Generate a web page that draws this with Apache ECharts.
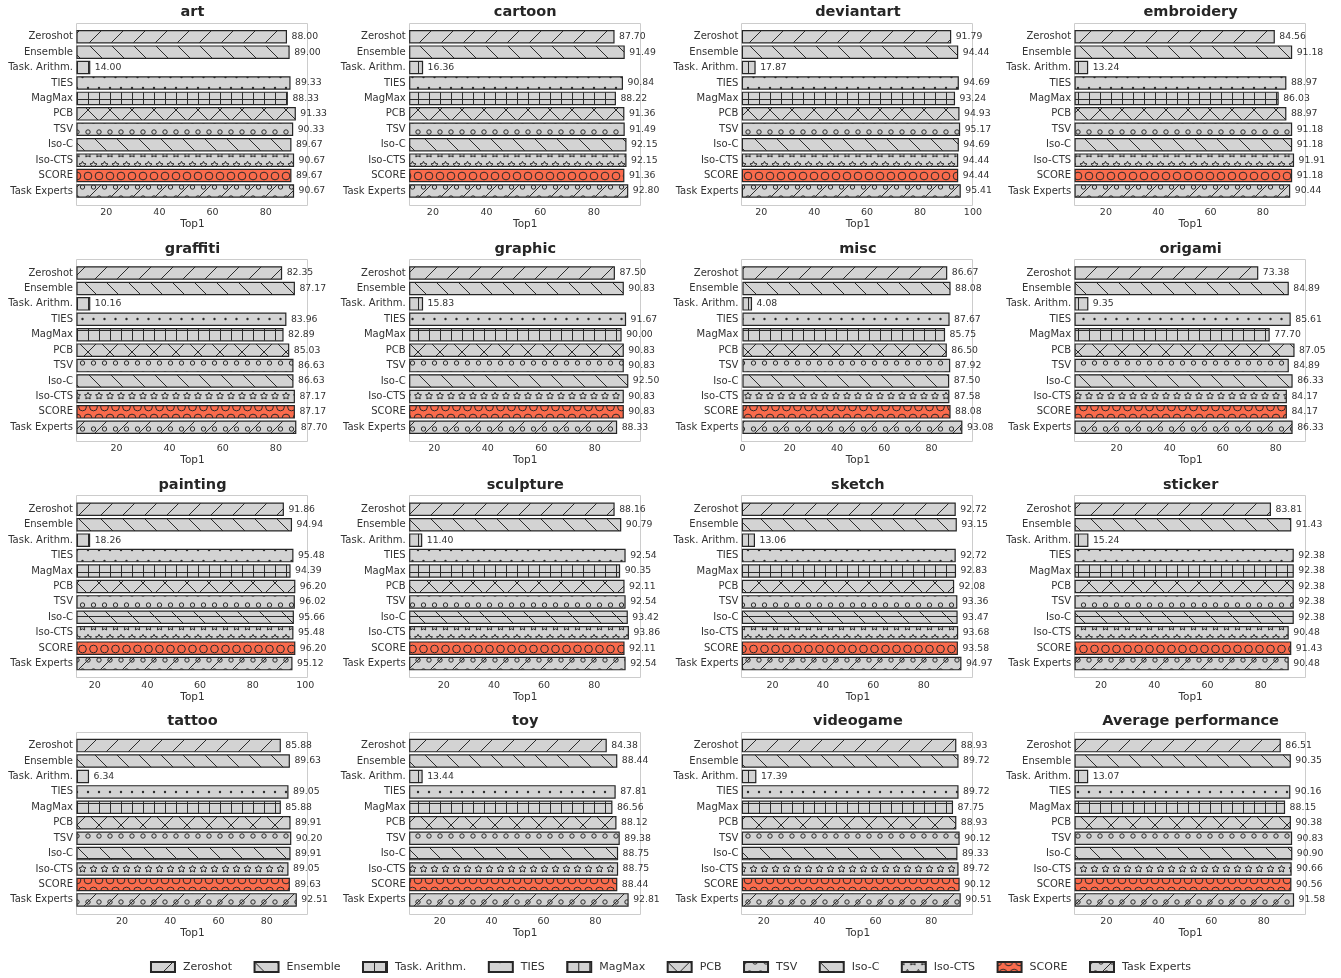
<!DOCTYPE html>
<html>
<head>
<meta charset="utf-8">
<script src="https://cdn.jsdelivr.net/npm/echarts@6/dist/echarts.min.js"></script>
<style>
  html, body { margin: 0; padding: 0; background: #ffffff; }
  #chart { width: 1341px; height: 978px; }
</style>
</head>
<body>
<div id="chart"></div>
<script>
// Methods, in the order they are listed on every panel (top to bottom)
const methods = ['Zeroshot', 'Ensemble', 'Task. Arithm.', 'TIES', 'MagMax', 'PCB',
                 'TSV', 'Iso-C', 'Iso-CTS', 'SCORE', 'Task Experts'];

// Top-1 accuracy per domain, one value per method
const art        = [88.00, 89.00, 14.00, 89.33, 88.33, 91.33, 90.33, 89.67, 90.67, 89.67, 90.67];
const cartoon    = [87.70, 91.49, 16.36, 90.84, 88.22, 91.36, 91.49, 92.15, 92.15, 91.36, 92.80];
const deviantart = [91.79, 94.44, 17.87, 94.69, 93.24, 94.93, 95.17, 94.69, 94.44, 94.44, 95.41];
const embroidery = [84.56, 91.18, 13.24, 88.97, 86.03, 88.97, 91.18, 91.18, 91.91, 91.18, 90.44];
const graffiti   = [82.35, 87.17, 10.16, 83.96, 82.89, 85.03, 86.63, 86.63, 87.17, 87.17, 87.70];
const graphic    = [87.50, 90.83, 15.83, 91.67, 90.00, 90.83, 90.83, 92.50, 90.83, 90.83, 88.33];
const misc       = [86.67, 88.08, 4.08, 87.67, 85.75, 86.50, 87.92, 87.50, 87.58, 88.08, 93.08];
const origami    = [73.38, 84.89, 9.35, 85.61, 77.70, 87.05, 84.89, 86.33, 84.17, 84.17, 86.33];
const painting   = [91.86, 94.94, 18.26, 95.48, 94.39, 96.20, 96.02, 95.66, 95.48, 96.20, 95.12];
const sculpture  = [88.16, 90.79, 11.40, 92.54, 90.35, 92.11, 92.54, 93.42, 93.86, 92.11, 92.54];
const sketch     = [92.72, 93.15, 13.06, 92.72, 92.83, 92.08, 93.36, 93.47, 93.68, 93.58, 94.97];
const sticker    = [83.81, 91.43, 15.24, 92.38, 92.38, 92.38, 92.38, 92.38, 90.48, 91.43, 90.48];
const tattoo     = [85.88, 89.63, 6.34, 89.05, 85.88, 89.91, 90.20, 89.91, 89.05, 89.63, 92.51];
const toy        = [84.38, 88.44, 13.44, 87.81, 86.56, 88.12, 89.38, 88.75, 88.75, 88.44, 92.81];
const videogame  = [88.93, 89.72, 17.39, 89.72, 87.75, 88.93, 90.12, 89.33, 89.72, 90.12, 90.51];
const average    = [86.51, 90.35, 13.07, 90.16, 88.15, 90.38, 90.83, 90.90, 90.66, 90.56, 91.58];

const panelTitles = ['art', 'cartoon', 'deviantart', 'embroidery', 'graffiti', 'graphic', 'misc', 'origami',
                     'painting', 'sculpture', 'sketch', 'sticker', 'tattoo', 'toy', 'videogame', 'Average performance'];
const panelValues = [art, cartoon, deviantart, embroidery, graffiti, graphic, misc, origami,
                     painting, sculpture, sketch, sticker, tattoo, toy, videogame, average];

const xTickStep = 20;
const xAxisName = 'Top1';

// ---------- layout ----------
const FONT = 'DejaVu Sans';
const colX0 = 77, colStep = 332.7;
const rowY0 = 22.7, rowStep = 236.3;
const frameW = 231, frameH = 182.3;
const band = 15.43;                 // px per category row
const barPx = 13.5;                 // bar thickness
const pad = (frameH - methods.length * band) / 2;

// ---------- hatch fills ----------
const GRAY = '#d3d3d3', RED = '#fa6b4c';
const EDGE = '#262626', INK = '#2b2b2b';

function hatchTile(kind, bg, ink) {
  const u = 11;
  const dims = { slash: [22, 22], back: [22, 22], cross: [22, 22], vline: [11, 11], plus: [11, 11],
                 dots: [11, 22], ring: [11, 22], bigring: [11, 22], star: [11, 22],
                 ringslash: [22, 22], backdash: [22, 22] }[kind];
  const W = dims[0], H = dims[1];
  const cv = document.createElement('canvas');
  cv.width = W; cv.height = H;
  const ctx = cv.getContext('2d');
  ctx.fillStyle = bg; ctx.fillRect(0, 0, W, H);
  ctx.strokeStyle = ink; ctx.fillStyle = ink; ctx.lineWidth = 1;

  const line = (x1, y1, x2, y2) => { ctx.beginPath(); ctx.moveTo(x1, y1); ctx.lineTo(x2, y2); ctx.stroke(); };
  const slash = () => { for (let k = -1; k <= 1; k++) line(k * W, H, k * W + W, 0); };
  const back = () => { for (let k = -1; k <= 1; k++) line(k * W, 0, k * W + W, H); };
  const stagger = (fn) => {
    for (let row = 0; row * u <= H; row++) {
      const y = row * u;
      if (row % 2 === 0) { for (let x = 0; x <= W; x += u) fn(x, y); }
      else { for (let x = u / 2; x < W; x += u) fn(x, y); }
    }
  };
  const ring = (r) => (x, y) => { ctx.beginPath(); ctx.arc(x, y, r, 0, Math.PI * 2); ctx.stroke(); };
  const dot = (r) => (x, y) => { ctx.beginPath(); ctx.arc(x, y, r, 0, Math.PI * 2); ctx.fill(); };
  const star = (r) => (x, y) => {
    ctx.beginPath();
    for (let i = 0; i < 10; i++) {
      const rr = i % 2 === 0 ? r : r * 0.5;
      const a = -Math.PI / 2 + i * Math.PI / 5;
      const px = x + rr * Math.cos(a), py = y + rr * Math.sin(a);
      if (i === 0) ctx.moveTo(px, py); else ctx.lineTo(px, py);
    }
    ctx.closePath(); ctx.stroke();
  };

  switch (kind) {
    case 'slash': slash(); break;
    case 'back': back(); break;
    case 'cross': slash(); back(); break;
    case 'vline': line(0.5, 0, 0.5, H); break;
    case 'plus': line(0.5, 0, 0.5, H); line(0, 0.5, W, 0.5); break;
    case 'dots': stagger(dot(1.2)); break;
    case 'ring': stagger(ring(2.2)); break;
    case 'bigring': stagger(ring(3.85)); break;
    case 'star': stagger(star(3.7)); break;
    case 'ringslash': stagger(ring(2.2)); slash(); break;
    case 'backdash': back(); line(0, 0.5, W, 0.5); break;
  }
  return { image: cv, repeat: 'repeat' };
}

const hatchKinds = ['slash', 'back', 'vline', 'dots', 'plus', 'cross', 'ring', 'backdash', 'star', 'bigring', 'ringslash'];
const fills = hatchKinds.map((k, i) => hatchTile(k, methods[i] === 'SCORE' ? RED : GRAY, INK));

// ---------- option ----------
const grids = [], xAxes = [], yAxes = [], titles = [], series = [], frames = [];

panelValues.forEach((vals, p) => {
  const r = Math.floor(p / 4), c = p % 4;
  const fx = colX0 + c * colStep, fy = rowY0 + r * rowStep;
  const lo = Math.max(0, Math.min(...vals) - 5);
  const hi = Math.max(...vals) * 1.05;
  const ticks = [];
  for (let t = 0; t <= hi; t += xTickStep) if (t >= lo) ticks.push(t);

  grids.push({ left: fx, top: fy + pad, width: frameW, height: methods.length * band,
               containLabel: false, outerBoundsMode: 'none' });
  frames.push({
    type: 'rect', silent: true, z: 0,
    shape: { x: Math.round(fx) - 0.5, y: Math.round(fy) + 0.5, width: frameW, height: Math.round(frameH) },
    style: { fill: null, stroke: '#cccccc', lineWidth: 1 }
  });
  titles.push({
    text: panelTitles[p], left: fx + frameW / 2, top: fy - 17.5, textAlign: 'center', padding: 0,
    textStyle: { fontFamily: FONT, fontSize: 14.5, fontWeight: 'bold', color: '#262626' }
  });
  xAxes.push({
    gridIndex: p, type: 'value', min: lo, max: hi,
    axisLine: { show: false }, axisTick: { show: false }, splitLine: { show: false },
    axisLabel: { customValues: ticks, margin: 9, fontFamily: FONT, fontSize: 9.5, color: '#333333' },
    name: xAxisName, nameLocation: 'middle', nameGap: 20,
    nameTextStyle: { fontFamily: FONT, fontSize: 10.5, color: '#333333' }
  });
  yAxes.push({
    gridIndex: p, type: 'category', data: methods, inverse: true,
    axisLine: { show: false }, axisTick: { show: false }, splitLine: { show: false },
    axisLabel: { margin: 4, fontFamily: FONT, fontSize: 10, color: '#333333' }
  });
  methods.forEach((m, k) => {
    series.push({
      type: 'bar', name: m, xAxisIndex: p, yAxisIndex: p, stack: 'panel' + p,
      barWidth: barPx,
      data: vals.map((v, j) => (j === k ? v : '-')),
      itemStyle: { color: fills[k], borderColor: EDGE, borderWidth: 1.2 },
      label: {
        show: true, position: 'right', distance: 4.5,
        fontFamily: FONT, fontSize: 9.3, color: '#333333',
        formatter: (d) => Number(d.value).toFixed(2)
      },
      emphasis: { disabled: true }
    });
  });
});

const chart = echarts.init(document.getElementById('chart'), null, { renderer: 'canvas' });
chart.setOption({
  animation: false,
  backgroundColor: '#ffffff',
  textStyle: { fontFamily: FONT },
  title: titles,
  grid: grids,
  xAxis: xAxes,
  yAxis: yAxes,
  series: series,
  graphic: { elements: frames },
  legend: {
    data: methods, left: 'center', top: 961, padding: 0,
    icon: 'rect', itemWidth: 24, itemHeight: 10, itemGap: 21.5,
    textStyle: { fontFamily: FONT, fontSize: 11, color: '#333333', padding: [0, 0, 0, 3] }
  }
});
</script>
</body>
</html>
